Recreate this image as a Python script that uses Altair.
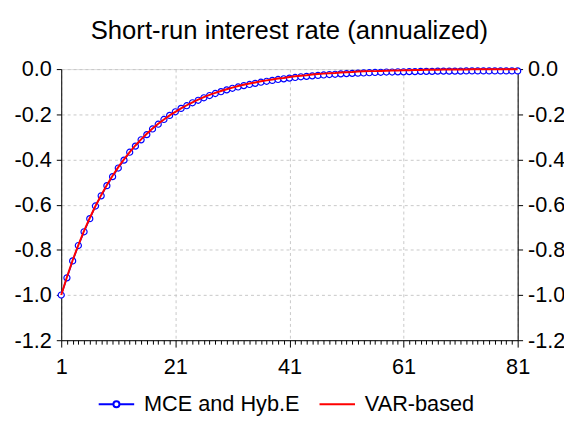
import altair as alt
import pandas as pd

# ---------------- data ----------------
periods = list(range(1, 82))
series_names = ["MCE and Hyb.E", "VAR-based"]

mce_hyb = [
    -1.000, -0.924, -0.849, -0.781, -0.720, -0.662, -0.606, -0.561, -0.516, -0.476,
    -0.438, -0.403, -0.368, -0.341, -0.313, -0.290, -0.265, -0.244, -0.223, -0.205,
    -0.189, -0.174, -0.162, -0.149, -0.138, -0.127, -0.117, -0.108, -0.100, -0.092,
    -0.085, -0.079, -0.073, -0.068, -0.063, -0.058, -0.054, -0.050, -0.046, -0.043,
    -0.040, -0.037, -0.034, -0.032, -0.030, -0.028, -0.026, -0.024, -0.023, -0.021,
    -0.020, -0.019, -0.018, -0.017, -0.016, -0.015, -0.014, -0.013, -0.013, -0.012,
    -0.012, -0.011, -0.011, -0.010, -0.010, -0.010, -0.009, -0.009, -0.009, -0.009,
    -0.009, -0.008, -0.008, -0.008, -0.008, -0.008, -0.008, -0.008, -0.008, -0.008,
    -0.008,
]

var_based = [
    -1.000, -0.920, -0.846, -0.779, -0.716, -0.659, -0.606, -0.558, -0.513, -0.472,
    -0.434, -0.400, -0.368, -0.338, -0.311, -0.286, -0.263, -0.242, -0.223, -0.205,
    -0.189, -0.174, -0.160, -0.147, -0.135, -0.124, -0.114, -0.105, -0.097, -0.089,
    -0.082, -0.075, -0.069, -0.064, -0.059, -0.054, -0.050, -0.046, -0.042, -0.039,
    -0.035, -0.032, -0.029, -0.027, -0.024, -0.022, -0.020, -0.018, -0.017, -0.015,
    -0.014, -0.013, -0.011, -0.010, -0.009, -0.009, -0.008, -0.007, -0.006, -0.006,
    -0.005, -0.005, -0.004, -0.004, -0.003, -0.003, -0.003, -0.002, -0.002, -0.002,
    -0.002, -0.002, -0.001, -0.001, -0.001, -0.001, -0.001, -0.001, -0.001, -0.001,
    -0.001,
]

y_ticks = [-1.2, -1.0, -0.8, -0.6, -0.4, -0.2, 0.0]
x_label_values = [1, 21, 41, 61, 81]
title_text = "Short-run interest rate (annualized)"

assert len(mce_hyb) == len(periods) == len(var_based)

df = pd.DataFrame({
    "t": periods * 2,
    "value": mce_hyb + var_based,
    "series": [series_names[0]] * len(periods) + [series_names[1]] * len(periods),
})

# ---------------- styling ----------------
FONT = "Liberation Sans"
BLUE = "#0000ff"
RED = "#ff0000"
GRID = "#c8c8c8"
TICK_FS = 22
LEG_FS = 22

major_test = "indexof([" + ",".join(str(v) for v in x_label_values) + "], datum.value) >= 0"

x_axis = alt.Axis(
    values=periods,
    labelExpr=f"{major_test} ? datum.label : ''",
    labelOverlap=False,
    labelFlush=False,
    tickSize={"condition": {"test": major_test, "value": 7}, "value": 4},
    grid=True,
    gridDash=[3, 3],
    gridColor=GRID,
    gridOpacity={"condition": {"test": major_test, "value": 1}, "value": 0},
    title=None,
    labelFont=FONT,
    labelFontSize=TICK_FS,
    labelColor="black",
    labelPadding=10,
    domainColor="black",
    tickColor="black",
)

y_label_expr = "datum.value < -0.0001 ? '-' + format(-datum.value, '.1f') : '0.0'"

y_axis_left = alt.Axis(
    values=y_ticks,
    labelExpr=y_label_expr,
    tickSize=5,
    grid=True,
    gridDash=[3, 3],
    gridColor=GRID,
    title=None,
    labelFont=FONT,
    labelFontSize=TICK_FS,
    labelColor="black",
    labelPadding=5,
    domainColor="black",
    tickColor="black",
)

y_axis_right = alt.Axis(
    orient="right",
    values=y_ticks,
    labelExpr=y_label_expr,
    tickSize=5,
    grid=False,
    title=None,
    labelFont=FONT,
    labelFontSize=TICK_FS,
    labelColor="black",
    labelPadding=5,
    domainColor="black",
    tickColor="black",
)

x_scale = alt.Scale(domain=[1, 81], nice=False, zero=False)
y_scale = alt.Scale(domain=[-1.2, 0.0], nice=False, zero=False)

base = alt.Chart(df)
x_enc = alt.X("t:Q", scale=x_scale, axis=x_axis)

blue_line = base.transform_filter(
    alt.datum.series == series_names[0]
).mark_line(color=BLUE, strokeWidth=1.5).encode(
    x=x_enc,
    y=alt.Y("value:Q", scale=y_scale, axis=y_axis_left),
)

blue_pts = base.transform_filter(
    alt.datum.series == series_names[0]
).mark_point(shape="circle", filled=False, fill="white", fillOpacity=1,
             color=BLUE, stroke=BLUE, strokeWidth=1.2, size=38, opacity=1).encode(
    x=x_enc,
    y=alt.Y("value:Q", scale=y_scale, axis=None),
)

red_line = base.transform_filter(
    alt.datum.series == series_names[1]
).mark_line(color=RED, strokeWidth=2).encode(
    x=x_enc,
    y=alt.Y("value:Q", scale=y_scale, axis=y_axis_right),
)

# legend carrier (draws nothing, only provides the legend)
path_mce = ("M-1,0H-0.17M0.17,0H1"
            "M0.17,0A0.17,0.17 0 1,1 -0.17,0A0.17,0.17 0 1,1 0.17,0Z")
path_var = "M-1,0H1"

legend_props = dict(
    orient="none", legendX=37, legendY=321, direction="horizontal",
    title=None, labelFont=FONT, labelFontSize=LEG_FS, labelColor="black",
    symbolSize=1296, symbolStrokeWidth=2, symbolFillColor="white",
    columnPadding=16, labelOffset=9, padding=0,
)

legend_layer = base.transform_filter("false").mark_point(
    filled=False, strokeWidth=2, opacity=1
).encode(
    color=alt.Color(
        "series:N",
        scale=alt.Scale(domain=series_names, range=[BLUE, RED]),
        legend=alt.Legend(**legend_props),
    ),
    shape=alt.Shape(
        "series:N",
        scale=alt.Scale(domain=series_names, range=[path_mce, path_var]),
        legend=alt.Legend(**legend_props),
    ),
)

chart = alt.layer(blue_line, blue_pts, red_line, legend_layer).resolve_axis(
    y="independent"
).resolve_scale(
    y="shared"
).properties(
    width=463,
    height=275,
    padding={"left": 54, "top": 59, "right": 47, "bottom": 80},
    autosize=alt.AutoSizeParams(type="none"),
    title=alt.TitleParams(
        text=title_text, font=FONT, fontSize=26, fontWeight="normal",
        color="black", anchor="middle", frame="group", offset=26,
        baseline="alphabetic", dy=32,
    ),
).configure_view(
    stroke="black", strokeWidth=1
).configure(
    background="white"
)

chart.save("out.html", embed_options={"renderer": "svg", "actions": False})
